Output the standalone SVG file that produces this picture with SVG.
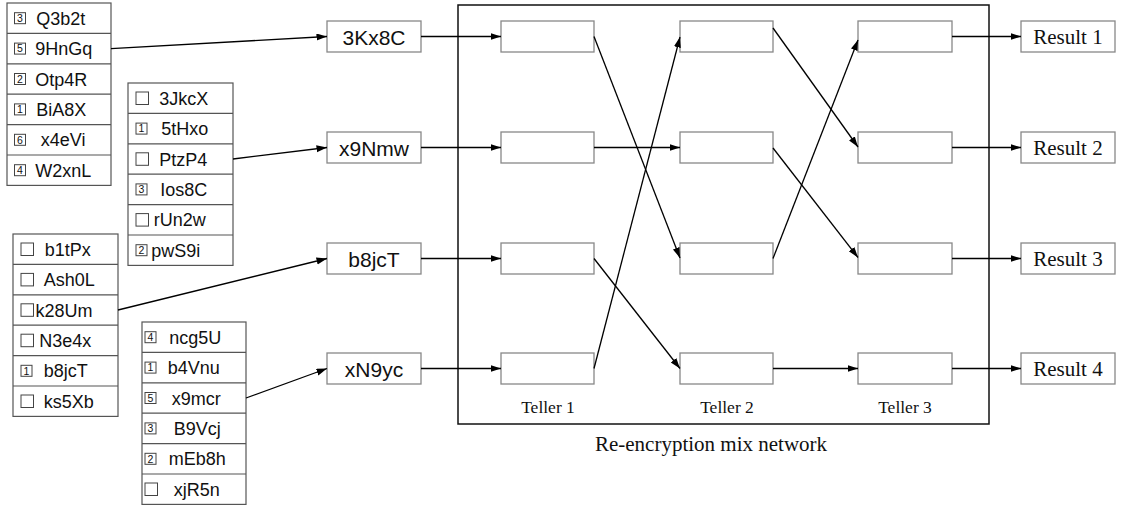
<svg xmlns="http://www.w3.org/2000/svg" width="1121" height="509" viewBox="0 0 1121 509">
  <style>
    .list { fill: #fff; stroke: #555; stroke-width: 1.2; }
    .div { stroke: #555; stroke-width: 1.2; }
    .chk { fill: #fff; stroke: #444; stroke-width: 1; }
    .num { font-family: "Liberation Sans", Arial, sans-serif; font-size: 10.5px; fill: #111; text-anchor: middle; }
    .item { font-family: "Liberation Sans", Arial, sans-serif; font-size: 18px; fill: #111; }
    .box { fill: #fff; stroke: #888; stroke-width: 1.3; }
    .in { font-family: "Liberation Sans", Arial, sans-serif; font-size: 21px; fill: #111; text-anchor: middle; }
    .res { font-family: "Liberation Serif", "Times New Roman", serif; font-size: 21px; fill: #111; text-anchor: middle; }
    .tl { font-family: "Liberation Serif", "Times New Roman", serif; font-size: 17.5px; fill: #111; text-anchor: middle; }
    .cap { font-family: "Liberation Serif", "Times New Roman", serif; font-size: 21px; fill: #111; text-anchor: middle; }
    .frame { fill: none; stroke: #111; stroke-width: 1.5; }
    .wire { fill: none; stroke: #000; stroke-width: 1.3; }
    .arr { marker-end: url(#head); }
  </style>
  <defs>
    <marker id="head" markerUnits="userSpaceOnUse" markerWidth="11" markerHeight="8" refX="10.5" refY="3.5" orient="auto">
      <path d="M0,0 L10.5,3.5 L0,7 z" fill="#000"/>
    </marker>
  </defs>

  <rect width="1121" height="509" fill="#fff"/>

  <!-- mix network frame -->
  <g id="mixnet">
    <rect class="frame" x="458" y="5" width="531" height="419"/>
    <text class="tl" x="548" y="413">Teller 1</text>
    <text class="tl" x="727" y="413">Teller 2</text>
    <text class="tl" x="905" y="413">Teller 3</text>
    <text class="cap" x="711" y="451">Re-encryption mix network</text>
  </g>

  <!-- ballot list 1 -->
  <g id="list-1">
    <rect class="list" x="7" y="3" width="104" height="182.4"/>
    <line class="div" x1="7" y1="33.4" x2="111" y2="33.4"/>
    <line class="div" x1="7" y1="63.8" x2="111" y2="63.8"/>
    <line class="div" x1="7" y1="94.2" x2="111" y2="94.2"/>
    <line class="div" x1="7" y1="124.6" x2="111" y2="124.6"/>
    <line class="div" x1="7" y1="155" x2="111" y2="155"/>
    <rect class="chk" x="14.5" y="12.7" width="11" height="11"/><text class="num" x="20" y="21.9">3</text>
    <rect class="chk" x="14.5" y="43.1" width="11" height="11"/><text class="num" x="20" y="52.3">5</text>
    <rect class="chk" x="14.5" y="73.5" width="11" height="11"/><text class="num" x="20" y="82.7">2</text>
    <rect class="chk" x="14.5" y="103.9" width="11" height="11"/><text class="num" x="20" y="113.1">1</text>
    <rect class="chk" x="14.5" y="134.3" width="11" height="11"/><text class="num" x="20" y="143.5">6</text>
    <rect class="chk" x="14.5" y="164.7" width="11" height="11"/><text class="num" x="20" y="173.9">4</text>
    <text class="item" x="36.3" y="24.7">Q3b2t</text>
    <text class="item" x="35.3" y="55.1">9HnGq</text>
    <text class="item" x="35.3" y="85.5">Otp4R</text>
    <text class="item" x="36.3" y="115.9">BiA8X</text>
    <text class="item" x="40.8" y="146.3">x4eVi</text>
    <text class="item" x="35.3" y="176.7">W2xnL</text>
  </g>

  <!-- ballot list 2 -->
  <g id="list-2">
    <rect class="list" x="128" y="83" width="105" height="182.4"/>
    <line class="div" x1="128" y1="113.4" x2="233" y2="113.4"/>
    <line class="div" x1="128" y1="143.8" x2="233" y2="143.8"/>
    <line class="div" x1="128" y1="174.2" x2="233" y2="174.2"/>
    <line class="div" x1="128" y1="204.6" x2="233" y2="204.6"/>
    <line class="div" x1="128" y1="235" x2="233" y2="235"/>
    <rect class="chk" x="136" y="92" width="12.5" height="12.5"/>
    <rect class="chk" x="136" y="123.1" width="11" height="11"/><text class="num" x="141.5" y="132.3">1</text>
    <rect class="chk" x="136" y="152.8" width="12.5" height="12.5"/>
    <rect class="chk" x="136" y="183.9" width="11" height="11"/><text class="num" x="141.5" y="193.1">3</text>
    <rect class="chk" x="136" y="213.6" width="12.5" height="12.5"/>
    <rect class="chk" x="136" y="244.7" width="11" height="11"/><text class="num" x="141.5" y="253.9">2</text>
    <text class="item" x="159.3" y="104.7">3JkcX</text>
    <text class="item" x="161.3" y="135.1">5tHxo</text>
    <text class="item" x="159.3" y="165.5">PtzP4</text>
    <text class="item" x="160.3" y="195.9">Ios8C</text>
    <text class="item" x="153.8" y="226.3">rUn2w</text>
    <text class="item" x="151.3" y="256.7">pwS9i</text>
  </g>

  <!-- ballot list 3 -->
  <g id="list-3">
    <rect class="list" x="13" y="234" width="105" height="182.4"/>
    <line class="div" x1="13" y1="264.4" x2="118" y2="264.4"/>
    <line class="div" x1="13" y1="294.8" x2="118" y2="294.8"/>
    <line class="div" x1="13" y1="325.2" x2="118" y2="325.2"/>
    <line class="div" x1="13" y1="355.6" x2="118" y2="355.6"/>
    <line class="div" x1="13" y1="386" x2="118" y2="386"/>
    <rect class="chk" x="21" y="243" width="12.5" height="12.5"/>
    <rect class="chk" x="21" y="273.4" width="12.5" height="12.5"/>
    <rect class="chk" x="21" y="303.8" width="12.5" height="12.5"/>
    <rect class="chk" x="21" y="334.2" width="12.5" height="12.5"/>
    <rect class="chk" x="21" y="365.3" width="11" height="11"/><text class="num" x="26.5" y="374.5">1</text>
    <rect class="chk" x="21" y="395" width="12.5" height="12.5"/>
    <text class="item" x="44.8" y="255.7">b1tPx</text>
    <text class="item" x="43.8" y="286.1">Ash0L</text>
    <text class="item" x="35.5" y="316.5">k28Um</text>
    <text class="item" x="39.3" y="346.9">N3e4x</text>
    <text class="item" x="43.8" y="377.3">b8jcT</text>
    <text class="item" x="43.8" y="407.7">ks5Xb</text>
  </g>

  <!-- ballot list 4 -->
  <g id="list-4">
    <rect class="list" x="142" y="322" width="104" height="182.4"/>
    <line class="div" x1="142" y1="352.4" x2="246" y2="352.4"/>
    <line class="div" x1="142" y1="382.8" x2="246" y2="382.8"/>
    <line class="div" x1="142" y1="413.2" x2="246" y2="413.2"/>
    <line class="div" x1="142" y1="443.6" x2="246" y2="443.6"/>
    <line class="div" x1="142" y1="474" x2="246" y2="474"/>
    <rect class="chk" x="145" y="331.7" width="11" height="11"/><text class="num" x="150.5" y="340.9">4</text>
    <rect class="chk" x="145" y="362.1" width="11" height="11"/><text class="num" x="150.5" y="371.3">1</text>
    <rect class="chk" x="145" y="392.5" width="11" height="11"/><text class="num" x="150.5" y="401.7">5</text>
    <rect class="chk" x="145" y="422.9" width="11" height="11"/><text class="num" x="150.5" y="432.1">3</text>
    <rect class="chk" x="145" y="453.3" width="11" height="11"/><text class="num" x="150.5" y="462.5">2</text>
    <rect class="chk" x="145" y="483" width="12.5" height="12.5"/>
    <text class="item" x="169.3" y="343.7">ncg5U</text>
    <text class="item" x="167.8" y="374.1">b4Vnu</text>
    <text class="item" x="171.8" y="404.5">x9mcr</text>
    <text class="item" x="173.8" y="434.9">B9Vcj</text>
    <text class="item" x="168.8" y="465.3">mEb8h</text>
    <text class="item" x="173.8" y="495.7">xjR5n</text>
  </g>

  <!-- encrypted inputs -->
  <g id="in-1"><rect class="box" x="327" y="21" width="94" height="31"/><text class="in" x="374" y="44.5">3Kx8C</text></g>
  <g id="in-2"><rect class="box" x="327" y="132" width="94" height="31"/><text class="in" x="374" y="155.5">x9Nmw</text></g>
  <g id="in-3"><rect class="box" x="327" y="243" width="94" height="31"/><text class="in" x="374" y="266.5">b8jcT</text></g>
  <g id="in-4"><rect class="box" x="327" y="353" width="94" height="31"/><text class="in" x="374" y="376.5">xN9yc</text></g>

  <!-- teller 1 -->
  <g id="t1-1"><rect class="box" x="501" y="21" width="93" height="31"/></g>
  <g id="t1-2"><rect class="box" x="501" y="132" width="93" height="31"/></g>
  <g id="t1-3"><rect class="box" x="501" y="243" width="93" height="31"/></g>
  <g id="t1-4"><rect class="box" x="501" y="353" width="93" height="31"/></g>

  <!-- teller 2 -->
  <g id="t2-1"><rect class="box" x="680" y="21" width="93" height="31"/></g>
  <g id="t2-2"><rect class="box" x="680" y="132" width="93" height="31"/></g>
  <g id="t2-3"><rect class="box" x="680" y="243" width="93" height="31"/></g>
  <g id="t2-4"><rect class="box" x="680" y="353" width="93" height="31"/></g>

  <!-- teller 3 -->
  <g id="t3-1"><rect class="box" x="858" y="21" width="94" height="31"/></g>
  <g id="t3-2"><rect class="box" x="858" y="132" width="94" height="31"/></g>
  <g id="t3-3"><rect class="box" x="858" y="243" width="94" height="31"/></g>
  <g id="t3-4"><rect class="box" x="858" y="353" width="94" height="31"/></g>

  <!-- outputs -->
  <g id="out-1"><rect class="box" x="1021" y="21" width="94" height="31"/><text class="res" x="1068" y="44.3">Result 1</text></g>
  <g id="out-2"><rect class="box" x="1021" y="132" width="94" height="31"/><text class="res" x="1068" y="155.3">Result 2</text></g>
  <g id="out-3"><rect class="box" x="1021" y="243" width="94" height="31"/><text class="res" x="1068" y="266.3">Result 3</text></g>
  <g id="out-4"><rect class="box" x="1021" y="353" width="94" height="31"/><text class="res" x="1068" y="376.3">Result 4</text></g>

  <!-- connectors -->
  <g id="connectors">
    <line class="wire arr" x1="111" y1="48.6" x2="327" y2="36.5"/>
    <line class="wire arr" x1="233" y1="159" x2="327" y2="147.5"/>
    <line class="wire arr" x1="118" y1="310" x2="327" y2="258.5"/>
    <line class="wire arr" x1="246" y1="398" x2="327" y2="368.5"/>

    <line class="wire arr" x1="421" y1="36.5" x2="501" y2="36.5"/>
    <line class="wire arr" x1="421" y1="147.5" x2="501" y2="147.5"/>
    <line class="wire arr" x1="421" y1="258.5" x2="501" y2="258.5"/>
    <line class="wire arr" x1="421" y1="368.5" x2="501" y2="368.5"/>

    <line class="wire arr" x1="594" y1="36.5" x2="680" y2="258"/>
    <line class="wire arr" x1="594" y1="147.5" x2="680" y2="147.5"/>
    <line class="wire arr" x1="594" y1="258.5" x2="680" y2="368.5"/>
    <line class="wire arr" x1="594" y1="368.5" x2="680" y2="37"/>

    <line class="wire arr" x1="773" y1="28" x2="858" y2="147"/>
    <line class="wire arr" x1="773" y1="148" x2="858" y2="257.5"/>
    <line class="wire arr" x1="773" y1="258.5" x2="858" y2="40"/>
    <line class="wire arr" x1="773" y1="368.5" x2="858" y2="368.5"/>

    <line class="wire arr" x1="952" y1="36.5" x2="1021" y2="36.5"/>
    <line class="wire arr" x1="952" y1="147.5" x2="1021" y2="147.5"/>
    <line class="wire arr" x1="952" y1="258.5" x2="1021" y2="258.5"/>
    <line class="wire arr" x1="952" y1="368.5" x2="1021" y2="368.5"/>
  </g>
</svg>
